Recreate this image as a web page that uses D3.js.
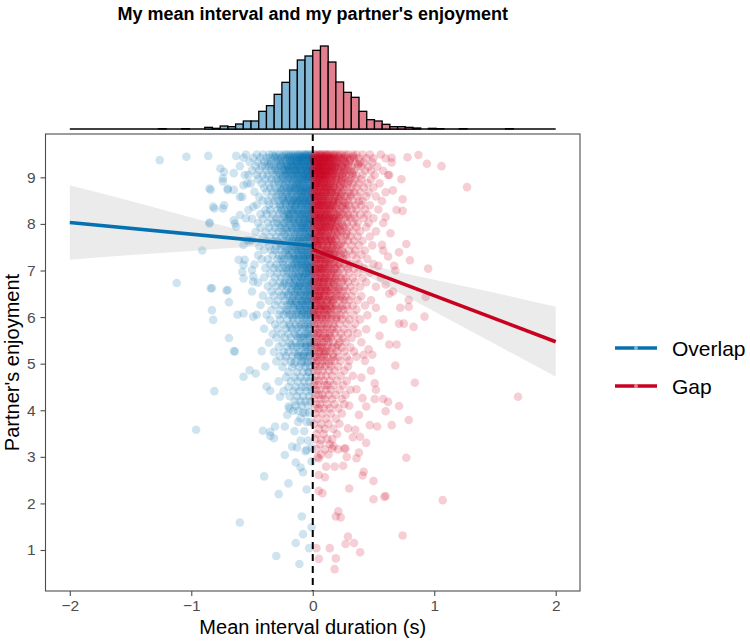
<!DOCTYPE html>
<html><head><meta charset="utf-8">
<script src="https://cdn.jsdelivr.net/npm/d3@7"></script>
<style>body{margin:0;background:#fff}svg text{font-family:"Liberation Sans",Arial,Helvetica,sans-serif}</style>
</head><body><svg id="c" width="750" height="641"></svg>
<script>
// ---------------- DATA ----------------
const groups = ["Overlap", "Gap"];
const xTicks = [-2, -1, 0, 1, 2];
const yTicks = [1, 2, 3, 4, 5, 6, 7, 8, 9];

// marginal histogram (bins of width histBinWidth starting at histBinIndex*histBinWidth)
const histBinWidth = 0.0635;
const histBinIndex = [-20,-17,-14,-13,-12,-11,-10,-9,-8,-7,-6,-5,-4,-3,-2,-1,0,1,2,3,4,5,6,7,8,9,10,11,12,13,15,16,19,25];
const histCounts   = [1,1,5,2,9,7,15,24,24,53,70,104,140,177,207,219,236,249,201,141,110,95,53,28,24,14,7,7,5,3,2,1,1,1];

// regression fits (endpoints) and confidence bands
const fitOverlapX = [-2, 0];
const fitOverlapY = [8.03, 7.53];
const fitGapX = [0, 2];
const fitGapY = [7.45, 5.47];
const bandOverlapX  = [-2, -1.5, -1, -0.75, -0.5, -0.35, -0.2, -0.1, 0];
const bandOverlapLo = [7.23, 7.33, 7.42, 7.47, 7.51, 7.53, 7.52, 7.49, 7.43];
const bandOverlapHi = [8.83, 8.49, 8.14, 7.97, 7.80, 7.71, 7.64, 7.63, 7.63];
const bandGapX  = [0, 0.1, 0.2, 0.35, 0.5, 0.75, 1, 1.5, 2];
const bandGapLo = [7.35, 7.28, 7.20, 7.02, 6.81, 6.47, 6.12, 5.42, 4.72];
const bandGapHi = [7.55, 7.42, 7.31, 7.19, 7.10, 6.94, 6.80, 6.52, 6.22];

// scatter points, dense part as rows [enjoyment, [interval values...]]
const overlapRows = [
[9.49,[-0.01,-0.02,-0.04,-0.05,-0.06,-0.07,-0.09,-0.11,-0.12,-0.14,-0.16,-0.18,-0.2,-0.22,-0.24,-0.27,-0.3,-0.33,-0.36,-0.41,-0.46,-0.55]],
[9.42,[0,-0.03,-0.04,-0.06,-0.08,-0.1,-0.11,-0.13,-0.15,-0.17,-0.19,-0.21,-0.23,-0.26,-0.29,-0.31,-0.35,-0.38,-0.43,-0.49,-0.57,-0.08]],
[9.33,[-0.01,-0.02,-0.05,-0.07,-0.09,-0.1,-0.12,-0.14,-0.16,-0.18,-0.19,-0.22,-0.25,-0.27,-0.3,-0.34,-0.37,-0.4,-0.45,-0.52,-0.04,-0.13]],
[9.24,[-0.02,-0.03,-0.05,-0.06,-0.08,-0.11,-0.13,-0.15,-0.17,-0.2,-0.21,-0.24,-0.26,-0.28,-0.32,-0.36,-0.39,-0.42,-0.47,-0.6,-0.1,-0.18]],
[9.15,[-0.01,-0.04,-0.05,-0.07,-0.09,-0.1,-0.12,-0.14,-0.16,-0.19,-0.22,-0.23,-0.25,-0.29,-0.31,-0.34,-0.38,-0.44,-0.5,-0.03,-0.15,-0.2]],
[9.05,[0,-0.02,-0.04,-0.06,-0.08,-0.1,-0.13,-0.15,-0.17,-0.18,-0.21,-0.23,-0.27,-0.3,-0.33,-0.37,-0.41,-0.46,-0.12,-0.07,-0.25,-0.56]],
[8.96,[-0.01,-0.03,-0.06,-0.08,-0.1,-0.13,-0.15,-0.18,-0.2,-0.23,-0.26,-0.3,-0.34,-0.39,-0.45,-0.05]],
[8.87,[-0.02,-0.04,-0.07,-0.09,-0.12,-0.14,-0.16,-0.19,-0.22,-0.25,-0.28,-0.32,-0.36,-0.42,-0.51,-0.11]],
[8.77,[-0.01,-0.03,-0.05,-0.08,-0.11,-0.13,-0.17,-0.19,-0.21,-0.24,-0.27,-0.31,-0.35,-0.4,-0.06,-0.15]],
[8.69,[-0.02,-0.04,-0.06,-0.09,-0.1,-0.12,-0.15,-0.18,-0.22,-0.26,-0.29,-0.33,-0.38,-0.48,-0.07,-0.2]],
[8.58,[-0.01,-0.03,-0.05,-0.07,-0.1,-0.13,-0.14,-0.17,-0.2,-0.23,-0.25,-0.3,-0.34,-0.44,-0.09,-0.58]],
[8.50,[-0.02,-0.04,-0.06,-0.08,-0.11,-0.12,-0.16,-0.18,-0.21,-0.24,-0.28,-0.31,-0.37,-0.41,-0.14,-0.03]],
[8.41,[-0.01,-0.03,-0.05,-0.09,-0.1,-0.13,-0.15,-0.19,-0.22,-0.25,-0.27,-0.32,-0.36,-0.46,-0.07,-0.17]],
[8.30,[-0.02,-0.04,-0.06,-0.08,-0.11,-0.14,-0.16,-0.18,-0.2,-0.23,-0.26,-0.29,-0.35,-0.39,-0.12,-0.53]],
[8.21,[-0.01,-0.03,-0.05,-0.07,-0.09,-0.12,-0.15,-0.17,-0.21,-0.24,-0.28,-0.33,-0.38,-0.43,-0.1,-0.19]],
[8.11,[-0.02,-0.04,-0.06,-0.08,-0.11,-0.13,-0.16,-0.18,-0.2,-0.22,-0.27,-0.3,-0.34,-0.41,-0.5,-0.03]],
[8.02,[-0.01,-0.03,-0.05,-0.07,-0.1,-0.12,-0.14,-0.19,-0.23,-0.25,-0.29,-0.32,-0.37,-0.45,-0.08,-0.16]],
[7.92,[-0.01,-0.04,-0.06,-0.09,-0.11,-0.14,-0.17,-0.2,-0.23,-0.27,-0.31,-0.36,-0.43,-0.07]],
[7.83,[-0.02,-0.03,-0.05,-0.08,-0.12,-0.15,-0.18,-0.21,-0.25,-0.28,-0.33,-0.39,-0.1,-0.47]],
[7.72,[-0.01,-0.04,-0.06,-0.08,-0.1,-0.13,-0.16,-0.19,-0.22,-0.26,-0.3,-0.35,-0.41,-0.03]],
[7.63,[-0.02,-0.05,-0.07,-0.09,-0.12,-0.14,-0.17,-0.21,-0.24,-0.29,-0.32,-0.38,-0.11,-0.52]],
[7.52,[-0.01,-0.03,-0.05,-0.08,-0.11,-0.13,-0.16,-0.18,-0.23,-0.26,-0.3,-0.36,-0.44,-0.06]],
[7.44,[-0.02,-0.04,-0.06,-0.09,-0.1,-0.14,-0.17,-0.2,-0.22,-0.27,-0.31,-0.34,-0.4,-0.12]],
[7.33,[-0.01,-0.03,-0.05,-0.07,-0.1,-0.12,-0.15,-0.19,-0.21,-0.25,-0.28,-0.33,-0.45,-0.08]],
[7.24,[-0.02,-0.04,-0.06,-0.08,-0.11,-0.13,-0.16,-0.18,-0.23,-0.26,-0.29,-0.37,-0.14,-0.42]],
[7.13,[-0.01,-0.03,-0.05,-0.07,-0.09,-0.12,-0.15,-0.17,-0.2,-0.24,-0.3,-0.35,-0.1,-0.48]],
[7.05,[-0.02,-0.04,-0.06,-0.08,-0.11,-0.14,-0.16,-0.19,-0.22,-0.25,-0.28,-0.32,-0.39,-0.03]],
[6.94,[-0.01,-0.03,-0.06,-0.08,-0.11,-0.14,-0.17,-0.2,-0.24,-0.29,-0.35,-0.05]],
[6.85,[-0.02,-0.04,-0.07,-0.09,-0.12,-0.15,-0.18,-0.22,-0.26,-0.31,-0.4,-0.1]],
[6.74,[-0.01,-0.03,-0.05,-0.08,-0.1,-0.13,-0.16,-0.19,-0.23,-0.27,-0.33,-0.45]],
[6.66,[-0.02,-0.04,-0.06,-0.09,-0.11,-0.14,-0.17,-0.21,-0.25,-0.3,-0.37,-0.12]],
[6.55,[-0.01,-0.03,-0.05,-0.07,-0.1,-0.12,-0.15,-0.18,-0.22,-0.28,-0.34,-0.5]],
[6.46,[-0.02,-0.04,-0.06,-0.08,-0.11,-0.13,-0.16,-0.2,-0.24,-0.26,-0.32,-0.41]],
[6.35,[-0.01,-0.03,-0.05,-0.09,-0.1,-0.14,-0.17,-0.19,-0.23,-0.29,-0.36,-0.07]],
[6.26,[-0.02,-0.04,-0.06,-0.08,-0.12,-0.15,-0.18,-0.21,-0.25,-0.31,-0.43,-0.11]],
[6.15,[-0.01,-0.03,-0.05,-0.07,-0.1,-0.13,-0.16,-0.2,-0.22,-0.27,-0.34,-0.09]],
[6.05,[-0.02,-0.04,-0.06,-0.09,-0.11,-0.14,-0.17,-0.19,-0.24,-0.28,-0.38,-0.46]],
[5.94,[-0.02,-0.05,-0.08,-0.12,-0.16,-0.21,-0.27,-0.35]],
[5.84,[-0.01,-0.04,-0.07,-0.1,-0.14,-0.19,-0.24,-0.31]],
[5.75,[-0.03,-0.05,-0.09,-0.13,-0.17,-0.22,-0.29,-0.4]],
[5.64,[-0.01,-0.04,-0.06,-0.11,-0.15,-0.2,-0.26,-0.33]],
[5.56,[-0.02,-0.05,-0.08,-0.12,-0.18,-0.23,-0.3,-0.1]],
[5.45,[-0.01,-0.03,-0.07,-0.1,-0.14,-0.19,-0.25,-0.36]],
[5.36,[-0.02,-0.05,-0.09,-0.13,-0.16,-0.21,-0.28,-0.06]],
[5.25,[-0.01,-0.04,-0.06,-0.11,-0.15,-0.2,-0.24,-0.32]],
[5.16,[-0.03,-0.05,-0.08,-0.12,-0.17,-0.22,-0.27,-0.1]],
[5.05,[-0.01,-0.04,-0.07,-0.09,-0.14,-0.18,-0.23,-0.3]],
[4.93,[-0.02,-0.06,-0.11,-0.17,-0.25]],
[4.82,[-0.04,-0.08,-0.13,-0.2,-0.03]],
[4.71,[-0.01,-0.05,-0.1,-0.15,-0.22]],
[4.62,[-0.03,-0.07,-0.12,-0.18,-0.28]],
[4.50,[-0.02,-0.06,-0.09,-0.14,-0.2]],
[4.41,[-0.01,-0.05,-0.11,-0.16,-0.24]],
[4.30,[-0.03,-0.08,-0.13,-0.19]],
[4.19,[-0.02,-0.06,-0.1,-0.15]],
[4.10,[-0.04,-0.09,-0.14]],
[3.95,[-0.03,-0.08]],
[3.75,[-0.05,-0.12,-0.02]],
[3.55,[-0.07,-0.15]],
[3.35,[-0.04,-0.1]],
[3.12,[-0.06]]
];
const overlapCoreRows = [
[9.45,[-0.015,-0.035,-0.055,-0.085,-0.105,-0.135,-0.165,-0.195,-0.245,-0.315]],
[9.37,[-0.005,-0.025,-0.045,-0.075,-0.095,-0.125,-0.155,-0.185,-0.225,-0.285]],
[9.28,[-0.015,-0.035,-0.065,-0.085,-0.115,-0.145,-0.175,-0.215,-0.265,-0.345]],
[9.19,[-0.005,-0.025,-0.055,-0.075,-0.105,-0.135,-0.165,-0.205,-0.235,-0.305]],
[9.10,[-0.015,-0.045,-0.065,-0.095,-0.125,-0.145,-0.185,-0.215,-0.275]],
[9.01,[-0.025,-0.035,-0.055,-0.085,-0.115,-0.155,-0.195,-0.245]],
[8.92,[-0.005,-0.035,-0.065,-0.095,-0.125,-0.165,-0.215,-0.285]],
[8.82,[-0.015,-0.045,-0.075,-0.105,-0.135,-0.175,-0.235]],
[8.73,[-0.025,-0.055,-0.085,-0.115,-0.145,-0.185,-0.255]],
[8.64,[-0.005,-0.035,-0.065,-0.095,-0.125,-0.165,-0.215,-0.275]],
[8.54,[-0.015,-0.045,-0.075,-0.105,-0.155,-0.195,-0.245]],
[8.45,[-0.025,-0.055,-0.085,-0.115,-0.135,-0.175,-0.225]],
[8.36,[-0.005,-0.035,-0.065,-0.095,-0.145,-0.185,-0.265]],
[8.26,[-0.015,-0.045,-0.075,-0.125,-0.165,-0.215]],
[8.16,[-0.025,-0.055,-0.085,-0.105,-0.145,-0.195,-0.235]],
[8.07,[-0.005,-0.035,-0.065,-0.115,-0.155,-0.205]],
[7.97,[-0.015,-0.045,-0.075,-0.095,-0.135,-0.185,-0.255]],
[7.88,[-0.025,-0.055,-0.085,-0.125,-0.165,-0.215]],
[7.78,[-0.005,-0.035,-0.065,-0.105,-0.145,-0.235]],
[7.68,[-0.015,-0.045,-0.075,-0.115,-0.155,-0.195]],
[7.58,[-0.025,-0.055,-0.095,-0.135,-0.175,-0.265]],
[7.48,[-0.005,-0.035,-0.065,-0.105,-0.145,-0.205]],
[7.38,[-0.015,-0.045,-0.085,-0.125,-0.165,-0.225]],
[7.29,[-0.025,-0.055,-0.075,-0.115,-0.155,-0.195]],
[7.19,[-0.005,-0.035,-0.065,-0.095,-0.135,-0.245]],
[7.09,[-0.015,-0.045,-0.085,-0.125,-0.175]],
[6.99,[-0.025,-0.055,-0.095,-0.135,-0.215]],
[6.89,[-0.005,-0.035,-0.075,-0.115,-0.165]],
[6.80,[-0.015,-0.045,-0.085,-0.145,-0.195]],
[6.70,[-0.025,-0.065,-0.105,-0.155,-0.235]],
[6.60,[-0.005,-0.035,-0.075,-0.125,-0.175]],
[6.50,[-0.015,-0.055,-0.095,-0.145,-0.205]],
[6.40,[-0.025,-0.065,-0.115,-0.165]],
[6.31,[-0.005,-0.045,-0.085,-0.135,-0.185]],
[6.20,[-0.015,-0.055,-0.105,-0.155]],
[6.10,[-0.035,-0.075,-0.125,-0.215]],
[5.99,[-0.015,-0.055,-0.095,-0.165]],
[5.79,[-0.025,-0.065,-0.115,-0.185]],
[5.60,[-0.035,-0.075,-0.135]],
[5.40,[-0.015,-0.055,-0.105,-0.175]],
[5.20,[-0.025,-0.075,-0.125]],
[5.00,[-0.045,-0.095,-0.155]]
];
const overlapSparse = [
[-1.26,9.37],[-1.04,9.44],[-0.86,9.46],[-0.63,9.46],[-0.76,9.19],[-0.73,9.12],[-0.74,8.91],[-0.84,8.73],[-0.7,8.73],
[-0.81,8.33],[-0.73,8.4],[-0.85,8.03],[-0.91,7.43],[-1.12,6.73],[-0.84,6.62],[-0.71,6.57],[-0.69,6.32],[-0.83,6.15],
[-0.82,5.94],[-0.69,5.55],[-0.64,5.26],[-0.57,4.72],[-0.47,4.79],[-0.52,4.86],[-0.81,4.41],[-0.96,3.58],[-0.6,1.59],
[-0.4,2.58],[-0.2,2.43],[-0.35,3.54],[-0.32,3.4],[-0.23,3.04],[-0.31,3.65],[-0.23,3.65],[-0.09,1.72],[-0.14,1.15],
[-0.08,1.34],[-0.3,0.87],[-0.11,0.7],[-0.03,1.04],[-0.01,1.49],[-0.14,2.88],[-0.1,2.77],[-0.08,2.67],[-0.17,3.22],
[-0.13,3.2],[-0.05,3.15],[-0.01,3.2],[-0.01,2.9],[-0.42,5.27],[-0.39,4.94],[-0.38,4.51],[-0.35,4.42],[-0.27,4.29],
[-0.41,3.56],[-0.35,3.45],[-0.2,4.08],[-0.19,4.04],[-0.16,3.99],[-0.21,3.9],[-0.12,3.99],[-0.1,3.83],[-0.06,3.94],
[-0.65,5.27],[-0.56,7.23],[-0.58,6.97],[-0.49,6.87],[-0.62,6.05],[-0.57,6.08],[-0.49,6.01],[-0.54,7.65],[-0.63,7.94],
[-0.55,8.12],[-0.49,8.37],[-0.6,8.58],[-0.54,8.87],[-0.53,9.05],[-0.65,9.09],[-0.74,8.98],[-0.85,8.76],[-0.82,8.37],
[-0.74,8.33],[-0.65,8.08],[-0.6,8.19],[-0.7,8.76],[-0.65,8.73],[-0.57,8.83],[-0.85,8.01],[-0.64,8.01],[-0.57,7.55],
[-0.5,7.65],[-0.61,7.23],[-0.57,7.12],[-0.5,7.01],[-0.57,6.83],[-0.49,6.76],[-0.83,6.62],[-0.7,6.58],[-0.28,2.2],[-0.05,2.3]
];
const gapRows = [
[9.49,[0.01,0.02,0.03,0.05,0.06,0.07,0.08,0.1,0.11,0.12,0.13,0.15,0.17,0.18,0.2,0.22,0.24,0.27,0.29,0.33,0.36,0.41,0.47,0.56]],
[9.41,[0,0.02,0.04,0.05,0.06,0.08,0.09,0.1,0.12,0.14,0.15,0.16,0.18,0.21,0.23,0.25,0.28,0.31,0.34,0.38,0.44,0.5,0.6,0.13]],
[9.32,[0.01,0.02,0.03,0.04,0.06,0.07,0.09,0.11,0.12,0.13,0.14,0.17,0.19,0.2,0.22,0.26,0.27,0.3,0.35,0.39,0.42,0.49,0.65,0.08]],
[9.23,[0.01,0.03,0.04,0.05,0.07,0.08,0.1,0.11,0.13,0.14,0.16,0.18,0.19,0.21,0.24,0.25,0.29,0.32,0.37,0.4,0.46,0.53,0.06,0.15]],
[9.14,[0,0.02,0.03,0.05,0.06,0.08,0.09,0.1,0.12,0.13,0.15,0.16,0.18,0.2,0.23,0.26,0.28,0.31,0.34,0.43,0.48,0.58,0.04,0.11]],
[9.05,[0.01,0.02,0.04,0.05,0.07,0.08,0.09,0.11,0.12,0.14,0.16,0.17,0.19,0.22,0.24,0.27,0.3,0.33,0.36,0.41,0.51,0.63,0.1,0.06]],
[8.96,[0.01,0.03,0.05,0.06,0.08,0.1,0.12,0.14,0.16,0.19,0.21,0.24,0.27,0.31,0.35,0.4,0.48,0.09]],
[8.87,[0.02,0.03,0.04,0.07,0.09,0.11,0.13,0.15,0.17,0.2,0.23,0.26,0.29,0.33,0.38,0.45,0.55,0.06]],
[8.78,[0.01,0.02,0.05,0.06,0.08,0.1,0.12,0.14,0.17,0.18,0.22,0.25,0.28,0.32,0.36,0.42,0.5,0.11]],
[8.68,[0,0.03,0.04,0.06,0.09,0.11,0.13,0.15,0.16,0.19,0.21,0.24,0.3,0.34,0.39,0.46,0.6,0.07]],
[8.59,[0.01,0.02,0.05,0.07,0.08,0.1,0.12,0.14,0.18,0.2,0.23,0.26,0.28,0.31,0.37,0.44,0.52,0.04]],
[8.49,[0.02,0.03,0.04,0.06,0.09,0.11,0.13,0.16,0.17,0.19,0.22,0.25,0.29,0.33,0.38,0.41,0.57,0.08]],
[8.40,[0.01,0.03,0.05,0.07,0.08,0.1,0.12,0.15,0.17,0.2,0.24,0.27,0.3,0.35,0.4,0.47,0.13,0.05]],
[8.31,[0,0.02,0.04,0.06,0.09,0.11,0.13,0.14,0.16,0.19,0.21,0.26,0.28,0.32,0.36,0.43,0.54,0.07]],
[8.20,[0.01,0.03,0.05,0.06,0.08,0.1,0.12,0.15,0.18,0.2,0.23,0.25,0.29,0.34,0.39,0.45,0.02,0.11]],
[8.12,[0.02,0.04,0.05,0.07,0.09,0.11,0.13,0.14,0.17,0.19,0.22,0.27,0.31,0.35,0.42,0.5,0.06,0.16]],
[8.02,[0.01,0.02,0.04,0.06,0.08,0.1,0.12,0.15,0.16,0.18,0.21,0.24,0.28,0.33,0.37,0.46,0.58,0.09]],
[7.93,[0.01,0.03,0.05,0.07,0.09,0.11,0.14,0.16,0.19,0.22,0.26,0.3,0.36,0.44,0.12]],
[7.84,[0.02,0.04,0.06,0.08,0.1,0.13,0.15,0.18,0.21,0.24,0.28,0.33,0.39,0.52,0.07]],
[7.73,[0.01,0.03,0.05,0.06,0.09,0.12,0.14,0.17,0.2,0.23,0.27,0.31,0.37,0.47,0.1]],
[7.64,[0.02,0.03,0.04,0.07,0.1,0.11,0.13,0.16,0.19,0.25,0.29,0.34,0.41,0.06,0.15]],
[7.54,[0.01,0.03,0.05,0.08,0.09,0.12,0.15,0.17,0.2,0.22,0.26,0.32,0.38,0.49,0.04]],
[7.43,[0.02,0.04,0.06,0.07,0.1,0.13,0.14,0.18,0.21,0.24,0.3,0.35,0.43,0.11,0.58]],
[7.34,[0.01,0.03,0.05,0.08,0.09,0.11,0.15,0.17,0.19,0.23,0.27,0.33,0.4,0.06,0.13]],
[7.25,[0.02,0.04,0.06,0.07,0.1,0.12,0.14,0.16,0.2,0.25,0.28,0.36,0.45,0.09,0.03]],
[7.14,[0.01,0.03,0.05,0.08,0.09,0.11,0.13,0.17,0.21,0.22,0.26,0.31,0.38,0.5,0.15]],
[7.04,[0.02,0.03,0.05,0.06,0.08,0.1,0.12,0.15,0.18,0.23,0.29,0.34,0.42,0.19,0.07]],
[6.95,[0.01,0.03,0.05,0.07,0.1,0.12,0.15,0.18,0.21,0.25,0.3,0.37,0.47]],
[6.84,[0.02,0.04,0.06,0.08,0.11,0.13,0.16,0.19,0.23,0.27,0.33,0.41,0.09]],
[6.75,[0.01,0.03,0.05,0.07,0.09,0.12,0.14,0.17,0.2,0.24,0.29,0.35,0.44]],
[6.65,[0.02,0.04,0.06,0.08,0.1,0.13,0.15,0.19,0.22,0.26,0.31,0.39,0.52]],
[6.56,[0.01,0.03,0.05,0.07,0.09,0.11,0.14,0.18,0.21,0.25,0.28,0.34,0.12]],
[6.45,[0.02,0.04,0.06,0.08,0.1,0.13,0.16,0.2,0.23,0.27,0.32,0.4,0.05]],
[6.36,[0.01,0.03,0.05,0.07,0.11,0.12,0.15,0.17,0.22,0.26,0.3,0.37,0.48]],
[6.25,[0.02,0.04,0.06,0.09,0.1,0.14,0.16,0.19,0.24,0.28,0.33,0.43,0.08]],
[6.16,[0.01,0.03,0.05,0.07,0.09,0.12,0.15,0.18,0.21,0.25,0.29,0.36,0.11]],
[6.04,[0.02,0.04,0.06,0.08,0.11,0.13,0.16,0.2,0.23,0.27,0.34,0.45,0.01]],
[5.95,[0.02,0.05,0.08,0.11,0.15,0.19,0.24,0.3,0.39]],
[5.86,[0.01,0.04,0.07,0.1,0.13,0.17,0.22,0.28,0.35]],
[5.74,[0.03,0.05,0.09,0.12,0.16,0.2,0.26,0.33,0.44]],
[5.65,[0.01,0.04,0.06,0.1,0.14,0.18,0.23,0.29,0.37]],
[5.55,[0.02,0.05,0.08,0.11,0.15,0.21,0.25,0.32,0.12]],
[5.46,[0.01,0.03,0.07,0.09,0.13,0.17,0.22,0.27,0.4]],
[5.35,[0.02,0.04,0.08,0.12,0.16,0.19,0.24,0.31,0.06]],
[5.26,[0.01,0.05,0.07,0.1,0.14,0.2,0.26,0.34,0.11]],
[5.15,[0.03,0.06,0.09,0.12,0.17,0.21,0.28,0.36,0.02]],
[5.06,[0.01,0.04,0.08,0.11,0.15,0.18,0.23,0.3,0.43]],
[4.94,[0.02,0.06,0.1,0.15,0.21,0.29]],
[4.85,[0.01,0.04,0.08,0.13,0.18,0.26]],
[4.74,[0.03,0.07,0.11,0.16,0.23,0.33]],
[4.63,[0.02,0.05,0.09,0.14,0.2,0.28]],
[4.54,[0.01,0.04,0.1,0.12,0.17,0.25]],
[4.44,[0.03,0.06,0.11,0.15,0.22,0.31]],
[4.33,[0.02,0.05,0.08,0.13,0.19,0.27]],
[4.24,[0.01,0.07,0.1,0.16,0.24]],
[4.13,[0.03,0.06,0.12,0.18,0.26]],
[4.04,[0.02,0.05,0.09,0.14,0.21]],
[3.93,[0.02,0.08,0.15,0.24]],
[3.82,[0.04,0.11,0.19]],
[3.71,[0.01,0.07,0.13,0.22]],
[3.60,[0.05,0.1,0.17]],
[3.49,[0.03,0.09,0.2]],
[3.38,[0.02,0.12,0.16]],
[3.27,[0.06,0.14]],
[3.16,[0.03,0.1,0.21]],
[3.05,[0.07,0.13]]
];
const gapCoreRows = [
[9.45,[0.015,0.035,0.055,0.075,0.095,0.115,0.145,0.175,0.215,0.265,0.335]],
[9.37,[0.005,0.025,0.045,0.065,0.085,0.105,0.135,0.165,0.195,0.245,0.305]],
[9.28,[0.015,0.035,0.055,0.075,0.095,0.125,0.155,0.185,0.235,0.285,0.375]],
[9.19,[0.005,0.025,0.045,0.065,0.085,0.115,0.145,0.175,0.215,0.265]],
[9.10,[0.015,0.035,0.055,0.075,0.105,0.135,0.165,0.205,0.255,0.325]],
[9.01,[0.005,0.025,0.045,0.065,0.095,0.125,0.155,0.195,0.245]],
[8.92,[0.015,0.035,0.055,0.085,0.115,0.145,0.185,0.235,0.295]],
[8.82,[0.005,0.025,0.045,0.075,0.105,0.135,0.175,0.225]],
[8.73,[0.015,0.035,0.065,0.095,0.125,0.155,0.195,0.255]],
[8.64,[0.005,0.025,0.055,0.085,0.115,0.145,0.185,0.235,0.315]],
[8.54,[0.015,0.045,0.075,0.105,0.135,0.175,0.215]],
[8.45,[0.005,0.035,0.065,0.095,0.125,0.165,0.205,0.265]],
[8.36,[0.015,0.045,0.075,0.105,0.145,0.185,0.245]],
[8.26,[0.005,0.035,0.065,0.095,0.125,0.165,0.225]],
[8.16,[0.015,0.045,0.075,0.105,0.135,0.175,0.215,0.285]],
[8.07,[0.005,0.035,0.065,0.095,0.125,0.155,0.205]],
[7.97,[0.015,0.045,0.075,0.105,0.145,0.185,0.245]],
[7.88,[0.005,0.035,0.065,0.095,0.135,0.175,0.225]],
[7.78,[0.015,0.045,0.075,0.115,0.155,0.205,0.275]],
[7.68,[0.005,0.035,0.065,0.105,0.145,0.185]],
[7.58,[0.015,0.045,0.085,0.125,0.165,0.235]],
[7.48,[0.005,0.035,0.075,0.115,0.155,0.195]],
[7.38,[0.015,0.055,0.095,0.135,0.175,0.255]],
[7.29,[0.005,0.045,0.085,0.125,0.165,0.215]],
[7.19,[0.025,0.065,0.105,0.145,0.185]],
[7.09,[0.015,0.055,0.095,0.135,0.205,0.275]],
[6.99,[0.005,0.045,0.085,0.125,0.165]],
[6.89,[0.025,0.065,0.105,0.145,0.195]],
[6.80,[0.015,0.055,0.095,0.135,0.185,0.255]],
[6.70,[0.005,0.045,0.085,0.125,0.175]],
[6.60,[0.025,0.065,0.105,0.155,0.215]],
[6.50,[0.015,0.055,0.095,0.145,0.195]],
[6.40,[0.005,0.045,0.085,0.135,0.185,0.245]],
[6.31,[0.025,0.065,0.115,0.165]],
[6.20,[0.015,0.055,0.105,0.155,0.225]],
[6.10,[0.005,0.045,0.095,0.145]],
[5.99,[0.025,0.075,0.125,0.195]],
[5.79,[0.015,0.065,0.115,0.175]],
[5.60,[0.035,0.085,0.145]],
[5.40,[0.015,0.065,0.125,0.205]],
[5.20,[0.045,0.095,0.165]],
[5.00,[0.025,0.075,0.135]]
];
const gapSparse = [
[0.78,9.43],[0.87,9.48],[0.94,9.29],[1.06,9.24],[1.27,8.79],[0.73,8.96],[0.74,8.53],[0.74,8.28],[0.69,8.3],[0.77,7.57],
[0.71,7.39],[0.8,7.22],[0.95,7.04],[0.93,6.43],[0.92,6.01],[0.83,5.79],[0.71,5.86],[0.75,5.86],[0.79,6.37],[0.72,6.2],
[0.79,6.22],[0.63,6.5],[0.66,6.55],[0.67,7.1],[0.68,7.0],[0.54,7.1],[0.65,9.42],[0.62,9.05],[0.66,8.72],[0.6,8.15],
[0.64,7.8],[0.57,7.55],[0.62,7.3],[0.56,6.85],[0.6,6.7],[0.52,6.2],[0.58,5.95],[0.55,5.6],
[1.69,4.29],[1.07,2.07],[0.77,2.98],[0.74,1.31],[0.84,4.59],[0.79,3.79],[0.68,4.96],[0.63,5.41],[0.69,5.41],[0.71,4.09],
[0.65,3.68],[0.6,2.16],[0.5,2.09],[0.5,2.48],[0.42,2.68],[0.39,0.95],[0.34,1.15],[0.27,1.13],[0.29,1.29],[0.21,1.83],
[0.19,1.72],[0.23,1.7],[0.19,0.82],[0.14,1.04],[0.05,0.81],[0.18,0.59],[0.3,2.32],[0.08,2.22],[0.05,2.27],[0.1,2.56],
[0.05,2.61],[0.36,2.97],[0.38,3.09],[0.59,2.14],[0.03,1.04],[0.51,4.58],[0.52,4.44],[0.41,4.26],[0.44,4.08],[0.51,4.24],
[0.58,4.24],[0.62,4.18],[0.6,3.98],[0.47,3.68],[0.53,3.65],[0.29,3.61],[0.35,3.58],[0.33,3.42],[0.39,3.43],[0.44,3.3],
[0.27,3.18],[0.28,3.0],[0.25,2.81],[0.18,2.79],[0.11,2.79],[0.07,3.36],[0.16,3.18],[0.05,2.97],[0.04,2.99],[0.17,3.23],
[0.26,3.18],[0.41,2.6],[0.46,5.31],[0.49,5.19],[0.42,5.19],[0.48,4.85],[0.4,4.7],[0.36,4.45],[0.3,4.1],[0.38,3.9]
];

// ---------------- DRAWING ----------------
const COLOR = {Overlap: "#0571b0", Gap: "#ca0020"};
const KEY_DOT = {Overlap: "#cfe3f0", Gap: "#f5d0d6"};
const HIST_FILL = {Overlap: "#82b8d7", Gap: "#e47f8f"};
const FONT = '"Liberation Sans", Arial, Helvetica, sans-serif';

const svg = d3.select("#c");
const x = d3.scaleLinear().domain([-2.2, 2.2]).range([45.5, 580]);
const y = d3.scaleLinear().domain([0.12, 9.93]).range([591, 134]);
const hy = d3.scaleLinear().domain([0, 249]).range([129, 46]);

function expand(rowSets, sparse) {
  const out = [];
  rowSets.forEach(rows => rows.forEach(([yy, xs]) => xs.forEach(xx => out.push([xx, yy]))));
  sparse.forEach(p => out.push(p));
  return out;
}
const pts = {
  Overlap: expand([overlapRows, overlapCoreRows], overlapSparse),
  Gap: expand([gapRows, gapCoreRows], gapSparse)
};

// points
const gPts = svg.append("g");
groups.forEach(g => {
  gPts.append("g").selectAll("circle").data(pts[g]).join("circle")
    .attr("cx", d => x(d[0])).attr("cy", d => y(d[1])).attr("r", 4.3)
    .attr("fill", COLOR[g]).attr("fill-opacity", 0.19);
});

// confidence bands
const area = d3.area().x(d => x(d[0])).y0(d => y(d[1])).y1(d => y(d[2])).curve(d3.curveMonotoneX);
const bands = {
  Overlap: bandOverlapX.map((v, i) => [v, bandOverlapLo[i], bandOverlapHi[i]]),
  Gap: bandGapX.map((v, i) => [v, bandGapLo[i], bandGapHi[i]])
};
groups.forEach(g => svg.append("path").attr("d", area(bands[g])).attr("fill", "#999999").attr("fill-opacity", 0.2));

// fit lines
const line = d3.line().x(d => x(d[0])).y(d => y(d[1]));
const fits = {
  Overlap: fitOverlapX.map((v, i) => [v, fitOverlapY[i]]),
  Gap: fitGapX.map((v, i) => [v, fitGapY[i]])
};
groups.forEach(g => svg.append("path").attr("d", line(fits[g])).attr("fill", "none")
  .attr("stroke", COLOR[g]).attr("stroke-width", 3.6));

// vertical dashed line at 0
svg.append("line").attr("x1", x(0)).attr("x2", x(0)).attr("y1", y.range()[1]).attr("y2", y.range()[0])
  .attr("stroke", "#000").attr("stroke-width", 2).attr("stroke-dasharray", "7,5");

// panel border
svg.append("rect").attr("x", x.range()[0]).attr("y", y.range()[1])
  .attr("width", x.range()[1] - x.range()[0]).attr("height", y.range()[0] - y.range()[1])
  .attr("fill", "none").attr("stroke", "#4d4d4d").attr("stroke-width", 1.1);

// axes
function styleAxis(sel) {
  sel.select(".domain").remove();
  sel.selectAll(".tick line").attr("stroke", "#4d4d4d").attr("stroke-width", 1.1);
  sel.selectAll(".tick text").attr("fill", "#4d4d4d").attr("font-size", 15.5).attr("font-family", FONT);
}
svg.append("g").attr("transform", `translate(0,${y.range()[0]})`)
  .call(d3.axisBottom(x).tickValues(xTicks).tickFormat(d3.format("d")).tickSize(5).tickPadding(4)).call(styleAxis);
svg.append("g").attr("transform", `translate(${x.range()[0]},0)`)
  .call(d3.axisLeft(y).tickValues(yTicks).tickFormat(d3.format("d")).tickSize(5).tickPadding(5)).call(styleAxis);

// axis titles
svg.append("text").attr("x", (x.range()[0] + x.range()[1]) / 2).attr("y", 634)
  .attr("text-anchor", "middle").attr("font-size", 20).attr("fill", "#000").text("Mean interval duration (s)");
svg.append("text").attr("transform", `translate(19,${(y.range()[0] + y.range()[1]) / 2}) rotate(-90)`)
  .attr("text-anchor", "middle").attr("font-size", 20).attr("fill", "#000").text("Partner's enjoyment");

// marginal histogram
svg.append("line").attr("x1", x(-2)).attr("x2", x(2)).attr("y1", hy(0)).attr("y2", hy(0))
  .attr("stroke", "#000").attr("stroke-width", 1.6);
svg.append("g").selectAll("rect").data(histBinIndex.map((k, i) => ({k, c: histCounts[i]}))).join("rect")
  .attr("x", d => x(d.k * histBinWidth))
  .attr("width", d => x((d.k + 1) * histBinWidth) - x(d.k * histBinWidth))
  .attr("y", d => hy(d.c)).attr("height", d => hy(0) - hy(d.c))
  .attr("fill", d => d.k < 0 ? HIST_FILL.Overlap : HIST_FILL.Gap)
  .attr("stroke", "#000").attr("stroke-width", 1.3);

// title
svg.append("text").attr("x", (x.range()[0] + x.range()[1]) / 2).attr("y", 20)
  .attr("text-anchor", "middle").attr("font-size", 18).attr("font-weight", "bold").attr("fill", "#000")
  .text("My mean interval and my partner's enjoyment");

// legend
const leg = svg.append("g");
groups.forEach((g, i) => {
  const cy = 348 + i * 38;
  leg.append("line").attr("x1", 615).attr("x2", 657).attr("y1", cy).attr("y2", cy)
    .attr("stroke", COLOR[g]).attr("stroke-width", 3.6);
  leg.append("circle").attr("cx", 636).attr("cy", cy).attr("r", 2).attr("fill", KEY_DOT[g]).attr("fill-opacity", 0.6);
  leg.append("text").attr("x", 672).attr("y", cy + 7.5).attr("font-size", 21).attr("fill", "#000").text(g);
});
</script></body></html>
